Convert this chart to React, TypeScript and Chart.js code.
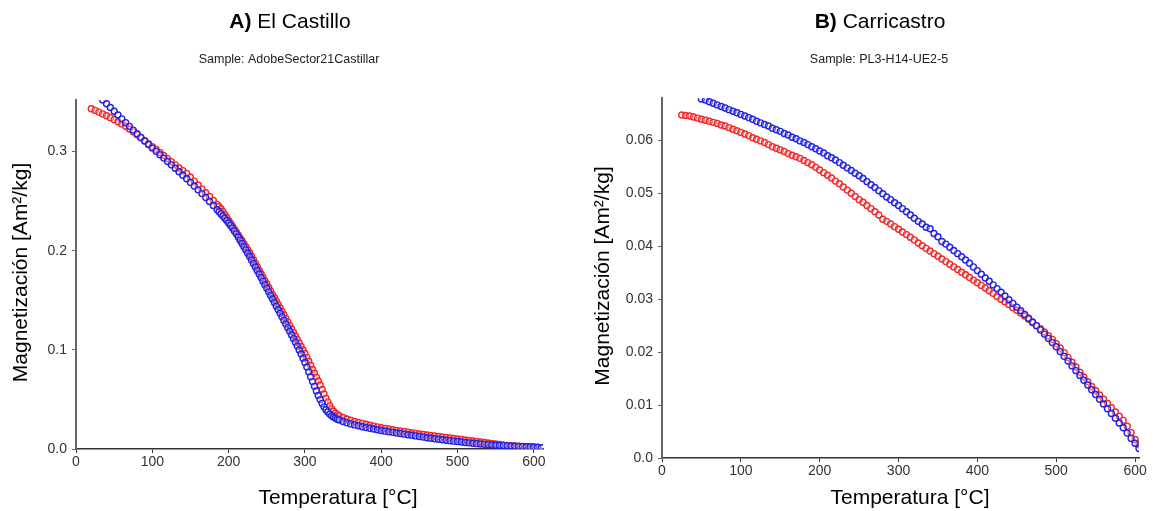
import React, { useEffect, useRef } from 'react';
import { Chart, registerables } from 'chart.js';

Chart.register(...registerables);

const FONT = '"Liberation Sans", Arial, Helvetica, sans-serif';

// ---- Panel A: El Castillo (sample AdobeSector21Castillar) ----
// Readings are taken every 5 °C, and every 2.5 °C across the steep drop.
const tempA = [
  20, 25, 30, 35, 40, 45, 50, 55, 60, 65,
  70, 75, 80, 85, 90, 95, 100, 105, 110, 115,
  120, 125, 130, 135, 140, 145, 150, 155, 160, 165,
  170, 175, 180, 185,
  187.5, 190, 192.5, 195, 197.5, 200, 202.5, 205, 207.5, 210,
  212.5, 215, 217.5, 220, 222.5, 225, 227.5,
  230, 232.5, 235, 237.5, 240, 242.5, 245, 247.5, 250, 252.5,
  255, 257.5, 260, 262.5, 265, 267.5, 270, 272.5, 275, 277.5,
  280, 282.5, 285, 287.5, 290, 292.5, 295, 297.5, 300, 302.5,
  305, 307.5, 310, 312.5, 315, 317.5, 320, 322.5, 325, 327.5,
  330, 332.5, 335, 337.5, 340, 342.5, 345,
  350, 355, 360, 365,
  370, 375, 380, 385, 390, 395, 400, 405, 410, 415,
  420, 425, 430, 435, 440, 445, 450, 455, 460, 465,
  470, 475, 480, 485, 490, 495, 500, 505, 510, 515,
  520, 525, 530, 535, 540, 545, 550, 555, 560, 565,
  570, 575, 580, 585, 590, 595, 600, 605, 610,
];

const heatingA = [
  0.3432, 0.3415, 0.3398, 0.3380, 0.3361, 0.3342, 0.3322, 0.3301, 0.3279, 0.3256,
  0.3228, 0.3199, 0.3170, 0.3140, 0.3110, 0.3080, 0.3050, 0.3020, 0.2990, 0.2960,
  0.2929, 0.2898, 0.2866, 0.2834, 0.2808, 0.2780, 0.2741, 0.2702, 0.2663, 0.2624,
  0.2585, 0.2546, 0.2507, 0.2467,
  0.2446, 0.2423, 0.2395, 0.2365, 0.2336, 0.2306, 0.2277, 0.2247, 0.2218, 0.2188,
  0.2159, 0.2129, 0.2100, 0.2070, 0.2041, 0.2011, 0.1979,
  0.1945, 0.1910, 0.1875, 0.1839, 0.1803, 0.1768, 0.1733, 0.1698, 0.1664, 0.1629,
  0.1595, 0.1560, 0.1526, 0.1491, 0.1457, 0.1422, 0.1387, 0.1352, 0.1317, 0.1282,
  0.1247, 0.1211, 0.1176, 0.1140, 0.1105, 0.1070, 0.1035, 0.0999, 0.0963, 0.0924,
  0.0885, 0.0844, 0.0802, 0.0764, 0.0725, 0.0686, 0.0645, 0.0600, 0.0555, 0.0513,
  0.0475, 0.0437, 0.0405, 0.0381, 0.0362, 0.0347, 0.0335,
  0.0318, 0.0303, 0.0290, 0.0278,
  0.0268, 0.0258, 0.0249, 0.0240, 0.0231, 0.0223, 0.0215, 0.0208, 0.0201, 0.0194,
  0.0188, 0.0182, 0.0176, 0.0170, 0.0164, 0.0158, 0.0152, 0.0146, 0.0141, 0.0136,
  0.0131, 0.0126, 0.0121, 0.0116, 0.0111, 0.0106, 0.0101, 0.0096, 0.0091, 0.0086,
  0.0081, 0.0076, 0.0071, 0.0066, 0.0061, 0.0056, 0.0051, 0.0046, 0.0041, 0.0037,
  0.0033, 0.0030, 0.0027, 0.0024, 0.0022, 0.0020, 0.0018, 0.0016, 0.0014,
];

const coolingA = [
  null, null, null, 0.3520, 0.3482, 0.3444, 0.3406, 0.3368, 0.3330, 0.3292,
  0.3254, 0.3216, 0.3180, 0.3143, 0.3106, 0.3071, 0.3036, 0.3002, 0.2968, 0.2934,
  0.2900, 0.2866, 0.2831, 0.2796, 0.2761, 0.2725, 0.2689, 0.2652, 0.2614, 0.2576,
  0.2537, 0.2497, 0.2456, 0.2414,
  0.2393, 0.2371, 0.2349, 0.2327, 0.2304, 0.2280, 0.2255, 0.2228, 0.2200, 0.2170,
  0.2138, 0.2105, 0.2073, 0.2040, 0.2008, 0.1975, 0.1941,
  0.1906, 0.1871, 0.1836, 0.1801, 0.1765, 0.1729, 0.1693, 0.1657, 0.1621, 0.1585,
  0.1549, 0.1513, 0.1477, 0.1441, 0.1405, 0.1369, 0.1333, 0.1297, 0.1260, 0.1224,
  0.1187, 0.1150, 0.1113, 0.1076, 0.1038, 0.0999, 0.0958, 0.0916, 0.0872, 0.0826,
  0.0778, 0.0729, 0.0680, 0.0632, 0.0585, 0.0540, 0.0498, 0.0460, 0.0425, 0.0396,
  0.0372, 0.0352, 0.0336, 0.0322, 0.0311, 0.0301, 0.0292,
  0.0277, 0.0264, 0.0253, 0.0243,
  0.0234, 0.0225, 0.0217, 0.0209, 0.0201, 0.0194, 0.0187, 0.0180, 0.0174, 0.0168,
  0.0162, 0.0156, 0.0150, 0.0144, 0.0138, 0.0132, 0.0126, 0.0120, 0.0114, 0.0109,
  0.0104, 0.0099, 0.0094, 0.0089, 0.0084, 0.0079, 0.0075, 0.0070, 0.0066, 0.0062,
  0.0058, 0.0054, 0.0051, 0.0047, 0.0044, 0.0041, 0.0038, 0.0036, 0.0034, 0.0032,
  0.0030, 0.0028, 0.0026, 0.0025, 0.0023, 0.0022, 0.0020, 0.0017, 0.0013,
];

const yTicksA = [0, 0.1, 0.2, 0.3];
const yLabelsA = ['0.0', '0.1', '0.2', '0.3'];

// ---- Panel B: Carricastro (sample PL3-H14-UE2-5) ----
const tempB = [
  25, 30, 35, 40, 45, 50, 55, 60, 65, 70,
  75, 80, 85, 90, 95, 100, 105, 110, 115, 120,
  125, 130, 135, 140, 145, 150, 155, 160, 165, 170,
  175, 180, 185, 190, 195, 200, 205, 210, 215, 220,
  225, 230, 235, 240, 245, 250, 255, 260, 265, 270,
  275, 280, 285, 290, 295, 300, 305, 310, 315, 320,
  325, 330, 335, 340, 345, 350, 355, 360, 365, 370,
  375, 380, 385, 390, 395, 400, 405, 410, 415, 420,
  425, 430, 435, 440, 445, 450, 455, 460, 465, 470,
  475, 480, 485, 490, 495, 500, 505, 510, 515, 520,
  525, 530, 535, 540, 545, 550, 555, 560, 565, 570,
  575, 580, 585, 590, 595, 600, 605,
];

const heatingB = [
  0.0648, 0.0647, 0.0646, 0.0644, 0.0642, 0.0640, 0.0638, 0.0636, 0.0634, 0.0632,
  0.0629, 0.0627, 0.0624, 0.0621, 0.0618, 0.0615, 0.0612, 0.0609, 0.0605, 0.0602,
  0.0599, 0.0596, 0.0592, 0.0588, 0.0585, 0.0582, 0.0579, 0.0575, 0.0572, 0.0569,
  0.0566, 0.0562, 0.0558, 0.0554, 0.0549, 0.0544, 0.0539, 0.0534, 0.0529, 0.0523,
  0.0518, 0.0512, 0.0506, 0.0500, 0.0494, 0.0488, 0.0483, 0.0477, 0.0471, 0.0465,
  0.0459, 0.0451, 0.0447, 0.0442, 0.0437, 0.0432, 0.0427, 0.0422, 0.0417, 0.0412,
  0.0406, 0.0401, 0.0396, 0.0391, 0.0386, 0.0381, 0.0376, 0.0371, 0.0366, 0.0361,
  0.0356, 0.0351, 0.0346, 0.0341, 0.0336, 0.0331, 0.0326, 0.0321, 0.0316, 0.0311,
  0.0305, 0.0300, 0.0295, 0.0290, 0.0284, 0.0279, 0.0274, 0.0268, 0.0262, 0.0256,
  0.0250, 0.0244, 0.0238, 0.0231, 0.0224, 0.0216, 0.0208, 0.0199, 0.0190, 0.0181,
  0.0172, 0.0162, 0.0153, 0.0144, 0.0135, 0.0127, 0.0119, 0.0111, 0.0103, 0.0095,
  0.0087, 0.0079, 0.0071, 0.0060, 0.0048, 0.0035, 0.0025,
];

const coolingB = [
  null, null, null, null, null, 0.0678, 0.0676, 0.0673, 0.0670, 0.0667,
  0.0664, 0.0661, 0.0658, 0.0655, 0.0652, 0.0649, 0.0646, 0.0643, 0.0640, 0.0636,
  0.0633, 0.0630, 0.0627, 0.0623, 0.0620, 0.0617, 0.0613, 0.0610, 0.0606, 0.0603,
  0.0599, 0.0596, 0.0592, 0.0588, 0.0584, 0.0580, 0.0576, 0.0571, 0.0567, 0.0563,
  0.0558, 0.0553, 0.0548, 0.0543, 0.0538, 0.0533, 0.0528, 0.0522, 0.0516, 0.0511,
  0.0505, 0.0499, 0.0493, 0.0488, 0.0482, 0.0477, 0.0471, 0.0465, 0.0459, 0.0453,
  0.0447, 0.0442, 0.0436, 0.0433, 0.0424, 0.0418, 0.0409, 0.0404, 0.0398, 0.0392,
  0.0386, 0.0380, 0.0374, 0.0368, 0.0361, 0.0354, 0.0347, 0.0340, 0.0334, 0.0327,
  0.0320, 0.0313, 0.0306, 0.0299, 0.0292, 0.0285, 0.0278, 0.0271, 0.0264, 0.0257,
  0.0250, 0.0242, 0.0234, 0.0226, 0.0218, 0.0210, 0.0201, 0.0192, 0.0183, 0.0174,
  0.0165, 0.0156, 0.0147, 0.0138, 0.0129, 0.0120, 0.0111, 0.0102, 0.0093, 0.0084,
  0.0075, 0.0066, 0.0057, 0.0047, 0.0037, 0.0028, 0.0018,
];

const yTicksB = [0, 0.01, 0.02, 0.03, 0.04, 0.05, 0.06];
const yLabelsB = ['0.0', '0.01', '0.02', '0.03', '0.04', '0.05', '0.06'];

const xTicks = [0, 100, 200, 300, 400, 500, 600];
const xLabels = ['0', '100', '200', '300', '400', '500', '600'];

const X_TITLE = 'Temperatura [°C]';
const Y_TITLE = 'Magnetización [Am²/kg]';

const RED = 'rgb(242, 40, 40)';
const BLUE = 'rgb(34, 34, 226)';

type Panel = {
  letter: string;
  site: string;
  sample: string;
  temps: number[];
  heating: (number | null)[];
  cooling: (number | null)[];
  xMax: number;
  yMax: number;
  yTicks: number[];
  yLabels: string[];
  pageLeft: number;
  width: number;
  area: { left: number; right: number; top: number; bottom: number };
  titleX: number;
  subtitleX: number;
  xTitleX: number;
  yTitleX: number;
};

const HEIGHT = 511;

const panels: Panel[] = [
  {
    letter: 'A)',
    site: 'El Castillo',
    sample: 'Sample: AdobeSector21Castillar',
    temps: tempA,
    heating: heatingA,
    cooling: coolingA,
    xMax: 612,
    yMax: 0.352,
    yTicks: yTicksA,
    yLabels: yLabelsA,
    pageLeft: 0,
    width: 580,
    area: { left: 76, right: 543, top: 100, bottom: 449 },
    titleX: 290,
    subtitleX: 289,
    xTitleX: 338,
    yTitleX: 21,
  },
  {
    letter: 'B)',
    site: 'Carricastro',
    sample: 'Sample: PL3-H14-UE2-5',
    temps: tempB,
    heating: heatingB,
    cooling: coolingB,
    xMax: 605,
    yMax: 0.068,
    yTicks: yTicksB,
    yLabels: yLabelsB,
    pageLeft: 580,
    width: 573,
    area: { left: 82, right: 559, top: 98, bottom: 458 },
    titleX: 300,
    subtitleX: 299,
    xTitleX: 330,
    yTitleX: 23,
  },
];

function toPoints(temps: number[], values: (number | null)[]) {
  const pts: { x: number; y: number }[] = [];
  values.forEach((v, i) => {
    if (v !== null) pts.push({ x: temps[i], y: v });
  });
  return pts;
}

function PanelChart({ panel }: { panel: Panel }) {
  const ref = useRef<HTMLCanvasElement | null>(null);

  useEffect(() => {
    if (!ref.current) return;
    const p = panel;

    const labelsPlugin = {
      id: 'panelLabels',
      afterDraw(chart: Chart) {
        const ctx = chart.ctx;
        ctx.save();
        ctx.fillStyle = '#000';
        ctx.textBaseline = 'alphabetic';

        // Title: bold letter followed by the site name
        const boldFont = `bold 21px ${FONT}`;
        const normFont = `21px ${FONT}`;
        ctx.font = boldFont;
        const wBold = ctx.measureText(p.letter).width;
        ctx.font = normFont;
        const rest = ' ' + p.site;
        const wRest = ctx.measureText(rest).width;
        const start = p.titleX - (wBold + wRest) / 2;
        ctx.textAlign = 'left';
        ctx.font = boldFont;
        ctx.fillText(p.letter, start, 28);
        ctx.font = normFont;
        ctx.fillText(rest, start + wBold, 28);

        // Subtitle
        ctx.fillStyle = '#222';
        ctx.font = `12.5px ${FONT}`;
        ctx.textAlign = 'center';
        ctx.fillText(p.sample, p.subtitleX, 63);

        // Axis titles
        ctx.fillStyle = '#000';
        ctx.font = `21px ${FONT}`;
        ctx.fillText(X_TITLE, p.xTitleX, 504);

        const midY = (chart.chartArea.top + chart.chartArea.bottom) / 2 - 2;
        ctx.translate(p.yTitleX, midY);
        ctx.rotate(-Math.PI / 2);
        ctx.textBaseline = 'middle';
        ctx.fillText(Y_TITLE, 0, 0);
        ctx.restore();
      },
    };

    const pointStyle = (color: string) => ({
      showLine: false,
      pointStyle: 'circle' as const,
      pointRadius: 3,
      pointBorderWidth: 1.4,
      pointBorderColor: color,
      pointBackgroundColor: 'rgba(255,255,255,0.3)',
      borderColor: color,
      backgroundColor: color,
    });

    const chart = new Chart(ref.current, {
      type: 'scatter',
      data: {
        datasets: [
          { label: 'cooling', data: toPoints(p.temps, p.cooling), ...pointStyle(BLUE) },
          { label: 'heating', data: toPoints(p.temps, p.heating), ...pointStyle(RED) },
        ],
      },
      options: {
        responsive: false,
        maintainAspectRatio: false,
        animation: false,
        devicePixelRatio: 1,
        layout: {
          padding: { left: 0, top: p.area.top, right: p.width - p.area.right, bottom: 0 },
        },
        plugins: {
          legend: { display: false },
          tooltip: { enabled: false },
          title: { display: false },
        },
        scales: {
          x: {
            type: 'linear',
            min: 0,
            max: p.xMax,
            afterFit: (s: any) => {
              s.height = HEIGHT - p.area.bottom;
            },
            afterBuildTicks: (s: any) => {
              s.ticks = xTicks.map((v) => ({ value: v }));
            },
            ticks: {
              callback: (_v: any, i: number) => xLabels[i],
              autoSkip: false,
              maxRotation: 0,
              padding: 1,
              color: '#333',
              font: { family: FONT, size: 14 },
            },
            grid: {
              drawOnChartArea: false,
              drawTicks: true,
              tickLength: 4,
              color: '#333',
              lineWidth: 1,
            },
            border: { display: true, color: '#333', width: 1.6 },
          },
          y: {
            type: 'linear',
            min: 0,
            max: p.yMax,
            afterFit: (s: any) => {
              s.width = p.area.left;
            },
            afterBuildTicks: (s: any) => {
              s.ticks = p.yTicks.map((v) => ({ value: v }));
            },
            ticks: {
              callback: (_v: any, i: number) => p.yLabels[i],
              autoSkip: false,
              padding: 5,
              color: '#333',
              font: { family: FONT, size: 14 },
            },
            grid: {
              drawOnChartArea: false,
              drawTicks: true,
              tickLength: 4,
              color: '#666',
              lineWidth: 1,
            },
            border: { display: true, color: '#666', width: 2 },
          },
        },
      },
      plugins: [labelsPlugin],
    });

    return () => chart.destroy();
  }, [panel]);

  return (
    <canvas
      ref={ref}
      width={panel.width}
      height={HEIGHT}
      style={{
        position: 'absolute',
        left: panel.pageLeft,
        top: 0,
        width: panel.width,
        height: HEIGHT,
      }}
    />
  );
}

export default function App() {
  return (
    <div
      style={{
        position: 'absolute',
        left: 0,
        top: 0,
        width: 1153,
        height: HEIGHT,
        background: '#fff',
        overflow: 'hidden',
      }}
    >
      {panels.map((p) => (
        <PanelChart key={p.letter} panel={p} />
      ))}
    </div>
  );
}
